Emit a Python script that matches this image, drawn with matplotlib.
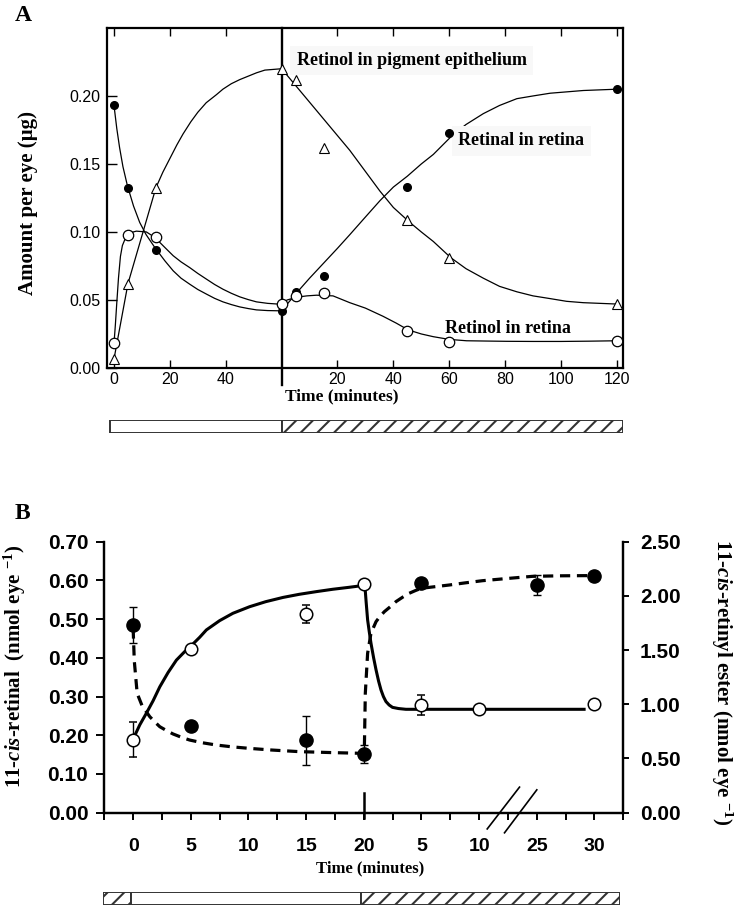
import matplotlib
matplotlib.use("Agg")
import matplotlib.pyplot as plt
from matplotlib.patches import Rectangle
from matplotlib.ticker import MultipleLocator, FixedLocator

plt.rcParams["mathtext.fontset"] = "custom"
plt.rcParams["mathtext.rm"] = "Liberation Serif:bold"
plt.rcParams["mathtext.it"] = "Liberation Serif:italic:bold"
plt.rcParams["mathtext.bf"] = "Liberation Serif:bold"
plt.rcParams["hatch.linewidth"] = 1.5

SERIF = "Liberation Serif"
SANS = "Liberation Sans"

# ---------------- panel A data ----------------
LIGHT_OFF_A = 60            # minutes of light before darkness
LIGHT_MIN = [0, 5, 15, 60]
DARK_MIN = [5, 15, 45, 60, 120]

retinal_retina = [0.193, 0.132, 0.087, 0.042, 0.056, 0.0675, 0.133, 0.173, 0.205]
retinol_retina = [0.018, 0.098, 0.096, 0.047, 0.053, 0.055, 0.0275, 0.019, 0.020]
retinol_pe = [0.0066, 0.062, 0.1325, 0.220, 0.212, 0.162, 0.109, 0.081, 0.047]

# fitted curves (x on the continuous time scale)
retinal_curve_x = [0, 1, 2, 3.2, 4.8, 7, 9.2, 11.5, 14.6, 18.2, 21.2, 24, 27.1, 30, 33.1, 36, 39,
                   42, 45, 48, 51, 55, 60,
                   62, 65.7, 70, 75, 80, 84.4, 90, 95.2, 100, 105, 110, 114.3, 121.1, 126, 132.2,
                   138, 144.2, 150, 156.1, 168, 180.5]
retinal_curve_y = [0.193, 0.176, 0.162, 0.148, 0.134, 0.119, 0.107, 0.098, 0.0886, 0.0788, 0.0714,
                   0.0660, 0.0616, 0.0577, 0.0543, 0.0512, 0.0486, 0.0466, 0.0449, 0.0437, 0.0427,
                   0.0422, 0.042,
                   0.047, 0.056, 0.066, 0.077, 0.088, 0.098, 0.111, 0.123, 0.133, 0.141, 0.150,
                   0.157, 0.171, 0.179, 0.187, 0.193, 0.198, 0.200, 0.202, 0.204, 0.205]

retinol_curve_x = [0, 0.5, 1.0, 1.6, 2.3, 3.0, 4.4, 6, 8, 11.6, 14.6, 18, 21.2, 24, 27.1, 30, 33.1,
                   36, 39, 42, 45, 48, 51, 55, 59.3,
                   62, 65.3, 69, 72.5, 78.4, 84.4, 90, 96.3, 101, 105.3, 110, 114.3, 120, 126.2,
                   133, 140.5, 150, 160, 170, 180]
retinol_curve_y = [0.018, 0.032, 0.048, 0.066, 0.082, 0.090, 0.097, 0.0995, 0.1006, 0.100, 0.096,
                   0.089, 0.0825, 0.0780, 0.0738, 0.0695, 0.0653, 0.0614, 0.0579, 0.0549, 0.0523,
                   0.0503, 0.0486, 0.0475, 0.0469,
                   0.050, 0.052, 0.053, 0.0535, 0.053, 0.048, 0.044, 0.038, 0.033, 0.028, 0.025,
                   0.023, 0.021, 0.020, 0.0198, 0.0196, 0.0195, 0.0195, 0.0197, 0.020]

pe_curve_x = [0, 5, 15, 17.5, 20, 22.5, 24.7, 27.5, 30, 33, 36.7, 39, 42, 45, 48.6, 51, 54, 57, 60,
              84.4, 95.2, 100, 105.9, 110, 114.3, 120.6, 126, 132.2, 138, 144.2, 150, 156.1,
              162, 168, 174, 180]
pe_curve_y = [0.0066, 0.062, 0.1325, 0.144, 0.154, 0.164, 0.172, 0.181, 0.188, 0.195, 0.201,
              0.205, 0.209, 0.212, 0.215, 0.217, 0.219, 0.2195, 0.220,
              0.160, 0.130, 0.118, 0.107, 0.100, 0.093, 0.081, 0.073, 0.066, 0.060, 0.056,
              0.053, 0.051, 0.049, 0.048, 0.0475, 0.047]

A_XTICKS = [0, 20, 40, 80, 100, 120, 140, 160, 180]
A_XLABELS = ["0", "20", "40", "20", "40", "60", "80", "100", "120"]
A_YTICKS = [0.0, 0.05, 0.10, 0.15, 0.20]

# ---------------- panel B data ----------------
B_XTICKS = [0, 5, 10, 15, 20, 25, 30, 35, 40]
B_XLABELS = ["0", "5", "10", "15", "20", "5", "10", "25", "30"]
LIGHT_OFF_B = 20

retinal_x = [0, 5, 15, 20, 25, 30, 40]
retinal_y = [0.188, 0.424, 0.513, 0.590, 0.278, 0.267, 0.281]
retinal_err = [0.045, 0, 0.024, 0, 0.027, 0, 0]

ester_x = [0, 5, 15, 20, 25, 35, 40]
ester_y = [1.731, 0.803, 0.670, 0.538, 2.122, 2.100, 2.186]
ester_err = [0.165, 0, 0.226, 0.083, 0, 0.092, 0]

retinal_fit_x = [0.09, 0.58, 1.15, 1.73, 2.31, 3.03, 3.75, 4.47, 4.96, 5.77, 6.35, 7.5, 8.65,
                 10.1, 11.5, 13.0, 14.4, 15.9, 17.3, 18.7, 20.0,
                 20.1, 20.2, 20.33, 20.47, 20.62, 20.85, 21.06, 21.28, 21.49, 21.7, 21.92,
                 22.2, 22.49, 23.0, 23.65, 25, 39.1]
retinal_fit_y = [0.196, 0.227, 0.257, 0.289, 0.325, 0.362, 0.394, 0.416, 0.429, 0.453, 0.472,
                 0.496, 0.515, 0.532, 0.545, 0.556, 0.564, 0.571, 0.577, 0.582, 0.587,
                 0.584, 0.545, 0.498, 0.468, 0.438, 0.400, 0.369, 0.340, 0.317, 0.300, 0.287,
                 0.278, 0.272, 0.269, 0.267, 0.267, 0.267]

ester_fit_x = [0.0, 0.1, 0.35, 0.8, 1.15, 1.44, 1.9, 2.31, 2.9, 3.46, 4.2, 4.9, 6.0, 7.21, 8.6,
               10.1, 12.0, 14.4, 17.3, 20.0,
               20.05, 20.13, 20.33, 20.62, 21.06, 21.4, 21.78, 22.3, 22.79, 23.4, 23.94, 24.5,
               25.0, 26.2, 27.4, 28.8, 30.3, 32.4, 34.6, 37.0, 39.9]
ester_fit_y = [1.70, 1.40, 1.10, 0.98, 0.93, 0.886, 0.835, 0.793, 0.757, 0.726, 0.695, 0.670,
               0.645, 0.624, 0.607, 0.593, 0.578, 0.563, 0.554, 0.547,
               0.60, 1.10, 1.47, 1.655, 1.762, 1.81, 1.854, 1.90, 1.947, 1.99, 2.024, 2.05,
               2.07, 2.085, 2.10, 2.12, 2.14, 2.16, 2.18, 2.185, 2.187]

B_LEFT_TICKS = [0.0, 0.1, 0.2, 0.3, 0.4, 0.5, 0.6, 0.7]
B_RIGHT_TICKS = [0.0, 0.5, 1.0, 1.5, 2.0, 2.5]


def positions_a():
    return LIGHT_MIN + [LIGHT_OFF_A + m for m in DARK_MIN]


def light_bar(ax, spans):
    # spans: (start, end, dark?)
    for x0, x1, dark in spans:
        ax.add_patch(Rectangle((x0, 0), x1 - x0, 1, facecolor="white",
                               edgecolor="#333333", linewidth=1.4,
                               hatch="//" if dark else None))
    ax.set_ylim(0, 1)
    ax.axis("off")


fig = plt.figure(figsize=(7.34, 9.07), dpi=100)

# ================= panel A =================
ax = fig.add_axes([0.1458, 0.5943, 0.703, 0.3749])
xa = positions_a()

for cx, cy in [(retinal_curve_x, retinal_curve_y), (retinol_curve_x, retinol_curve_y),
               (pe_curve_x, pe_curve_y)]:
    ax.plot(cx, cy, color="black", lw=0.9, zorder=2, solid_joinstyle="round")

ax.plot(xa, retinal_retina, "o", color="black", ms=5.5, zorder=4)
ax.plot(xa, retinol_retina, "o", mfc="white", mec="black", mew=0.9, ms=7.5, zorder=4)
ax.plot(xa, retinol_pe, "^", mfc="white", mec="black", mew=0.8, ms=6.5, zorder=4)

ax.plot([LIGHT_OFF_A, LIGHT_OFF_A], [-0.0125, 0.25], color="black", lw=1.7,
        clip_on=False, zorder=3)

ax.set_xlim(-2.5, 182.2)
ax.set_ylim(0, 0.25)
ax.set_xticks(A_XTICKS)
ax.set_xticklabels(A_XLABELS, family=SANS, fontsize=11.5)
ax.set_yticks(A_YTICKS)
ax.set_yticklabels(["%.2f" % v for v in A_YTICKS], family=SANS, fontsize=11.5)
ax.tick_params(axis="x", direction="in", length=6, width=1, top=True, pad=3)
ax.tick_params(axis="y", direction="in", length=7, width=1, pad=5)
for s in ax.spines.values():
    s.set_linewidth(1.6)

lab_kw = dict(family=SERIF, fontweight="bold", fontsize=13, va="center", ha="left")
box = dict(boxstyle="square,pad=0.35", fc="#f8f8f8", ec="none")
ax.text(65.4, 0.226, "Retinol in pigment epithelium", bbox=box, **lab_kw)
ax.text(123.2, 0.167, "Retinal in retina", bbox=box, **lab_kw)
ax.text(118.6, 0.0287, "Retinol in retina", **lab_kw)

fig.text(0.02, 0.995, "A", family=SERIF, fontweight="bold", fontsize=17, va="top")
fig.text(0.038, 0.776, "Amount per eye (µg)", family=SERIF, fontweight="bold",
         fontsize=15, rotation=90, ha="center", va="center")
fig.text(0.466, 0.5634, "Time (minutes)", family=SERIF, fontweight="bold",
         fontsize=12.5, ha="center", va="center")

bar_a = fig.add_axes([0.1458, 0.5223, 0.703, 0.0147])
bar_a.set_xlim(ax.get_xlim())
light_bar(bar_a, [(-1.4, LIGHT_OFF_A, False), (LIGHT_OFF_A, 182.2, True)])

# ================= panel B =================
axb = fig.add_axes([0.1421, 0.104, 0.7071, 0.2988])
axr = axb.twinx()

axb.plot(retinal_fit_x, retinal_fit_y, color="black", lw=2.2, zorder=2,
         solid_joinstyle="round")
axr.plot(ester_fit_x, ester_fit_y, color="black", lw=2.3, dashes=(3.2, 2.1), zorder=2)

axb.errorbar(retinal_x, retinal_y, yerr=retinal_err, fmt="o", mfc="white", mec="black",
             mew=1.1, ms=9, ecolor="black", elinewidth=1, capsize=3, zorder=4)
axr.errorbar(ester_x, ester_y, yerr=ester_err, fmt="o", color="black",
             ms=9.5, ecolor="black", elinewidth=1, capsize=3, zorder=4)

axb.plot([LIGHT_OFF_B, LIGHT_OFF_B], [-0.0146, 0.05], color="black", lw=1.8, clip_on=False)
# axis break marks
axb.plot([30.7, 33.5], [-0.042, 0.066], color="black", lw=1.2, clip_on=False)
axb.plot([32.2, 35.0], [-0.052, 0.059], color="black", lw=1.2, clip_on=False)

axb.set_xlim(-2.5, 42.5)
axb.set_ylim(0, 0.7)
axr.set_ylim(0, 2.5)
axb.xaxis.set_major_locator(FixedLocator(B_XTICKS))
axb.set_xticklabels(B_XLABELS, family=SANS, fontweight="bold", fontsize=14)
axb.xaxis.set_minor_locator(MultipleLocator(2.5))
axb.tick_params(axis="x", which="both", direction="out", length=5, width=1.4, pad=13)
axb.set_yticks(B_LEFT_TICKS)
axb.set_yticklabels(["%.2f" % v for v in B_LEFT_TICKS], family=SANS, fontweight="bold",
                    fontsize=15)
axb.tick_params(axis="y", direction="out", length=5.5, width=1.4, pad=6)
axr.set_yticks(B_RIGHT_TICKS)
axr.set_yticklabels(["%.2f" % v for v in B_RIGHT_TICKS], family=SANS, fontweight="bold",
                    fontsize=15)
axr.tick_params(axis="y", direction="out", length=4, width=1.4, pad=8)
for a in (axb, axr):
    a.spines["top"].set_visible(False)
    for side in ("left", "right", "bottom"):
        a.spines[side].set_linewidth(1.6)

fig.text(0.02, 0.4454, "B", family=SERIF, fontweight="bold", fontsize=17, va="top")
fig.text(0.0204, 0.2657, r"11-$\mathit{cis}$-retinal  (nmol eye $^{-1}$)",
         family=SERIF, fontweight="bold", fontsize=15, rotation=90, ha="center", va="center")
fig.text(0.9837, 0.2475, r"11-$\mathit{cis}$-retinyl ester (nmol eye $^{-1}$)",
         family=SERIF, fontweight="bold", fontsize=15, rotation=270, ha="center", va="center")
fig.text(0.504, 0.043, "Time (minutes)", family=SERIF, fontweight="bold",
         fontsize=12, ha="center", va="center")

bar_b = fig.add_axes([0.1399, 0.0022, 0.7048, 0.0147])
bar_b.set_xlim(axb.get_xlim())
light_bar(bar_b, [(-2.5, 0, True), (0, LIGHT_OFF_B, False), (LIGHT_OFF_B, 42.5, True)])

fig.savefig("out.png", dpi=100)
